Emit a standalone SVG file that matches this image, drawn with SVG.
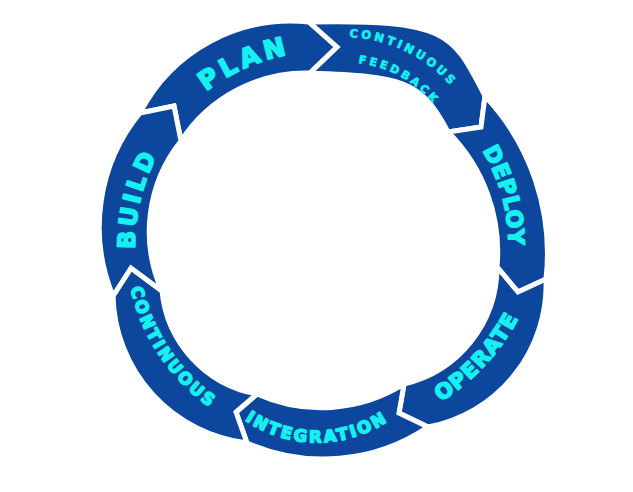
<svg xmlns="http://www.w3.org/2000/svg" width="633" height="492" viewBox="0 0 633 492">
<style>
.seg{fill:#0c479d;stroke:#ffffff;stroke-width:5;stroke-linejoin:miter}
.lbl{font-family:"DejaVu Sans","Liberation Sans",sans-serif;font-weight:700;fill:#16f0f0;stroke:#16f0f0;stroke-width:1.6;stroke-linejoin:round;text-anchor:middle}
.sm{stroke-width:0.7}
</style>
<defs>
<path id="tp-plan" d="M168.1,131 A194,194 0 0 1 345.3,52.1"/>
<path id="tp-cf1" d="M322.7,39.1 A140,140 0 0 1 467.1,109.2"/>
<path id="tp-cf2" d="M332.8,62.9 A115,115 0 0 1 448.2,126.9"/>
<path id="tp-deploy" d="M453.9,114.3 A183.5,183.5 0 0 1 502.6,291.3"/>
<path id="tp-operate" d="M391.4,423.9 A214.5,214.5 0 0 0 537.2,266.5"/>
<path id="tp-integration" d="M235.4,412.8 A127,127 0 0 0 398.6,412.8"/>
<path id="tp-continuous" d="M126,240.8 A199,199 0 0 0 253,430.5"/>
<path id="tp-build" d="M142.6,298.3 A190,190 0 0 1 187.6,113.7"/>
</defs>
<rect width="633" height="492" fill="#ffffff"/>
<g id="plan">
<path class="seg" d="M140,113 A170,170 0 0 1 309,22 L337,47 L310,73 A149,149 0 0 0 181,141 L174,106 Z"/>
<text class="lbl" font-size="26" letter-spacing="4"><textPath href="#tp-plan" startOffset="50%">PLAN</textPath></text>
</g>
<g id="continuous-feedback">
<path class="seg" d="M309,22 C449,19 453,34 485,96 L481,127 L448,132 C420.4,78.6 400,76.6 310,73 L337,47 Z"/>
<text class="lbl sm" font-size="11.5" letter-spacing="3.1"><textPath href="#tp-cf1" startOffset="50%">CONTINUOUS</textPath></text>
<text class="lbl sm" font-size="11" letter-spacing="3"><textPath href="#tp-cf2" startOffset="50%">FEEDBACK</textPath></text>
</g>
<g id="deploy">
<path class="seg" d="M485,96 A230,230 0 0 1 546,279 L518,292 L497,267 A169,169 0 0 0 448,132 L481,127 Z"/>
<text class="lbl" font-size="22" letter-spacing="0.6"><textPath href="#tp-deploy" startOffset="50%">DEPLOY</textPath></text>
</g>
<g id="operate">
<path class="seg" d="M546,279 A145,145 0 0 1 428,427 L399,413 L404,384 A120,120 0 0 0 497,267 L518,292 Z"/>
<text class="lbl" font-size="21" letter-spacing="1.3"><textPath href="#tp-operate" startOffset="50%">OPERATE</textPath></text>
</g>
<g id="integration">
<path class="seg" d="M428,427 A188,188 0 0 1 247,443 L236,412 L257,394 A156,156 0 0 0 404,384 L399,413 Z"/>
<text class="lbl" font-size="16.5" letter-spacing="2.5"><textPath href="#tp-integration" startOffset="50%">INTEGRATION</textPath></text>
</g>
<g id="continuous">
<path class="seg" d="M247,443 A152,152 0 0 1 113,296 L131,268 L162,291 A116,116 0 0 0 257,394 L236,412 Z"/>
<text class="lbl" font-size="16.5" letter-spacing="2.4"><textPath href="#tp-continuous" startOffset="50%">CONTINUOUS</textPath></text>
</g>
<g id="build">
<path class="seg" d="M113,296 A180,180 0 0 1 140,113 L174,106 L181,141 A145,145 0 0 0 162,291 L131,268 Z"/>
<text class="lbl" font-size="24" letter-spacing="3.5"><textPath href="#tp-build" startOffset="50%">BUILD</textPath></text>
</g>
<g id="connectors"></g>
</svg>
